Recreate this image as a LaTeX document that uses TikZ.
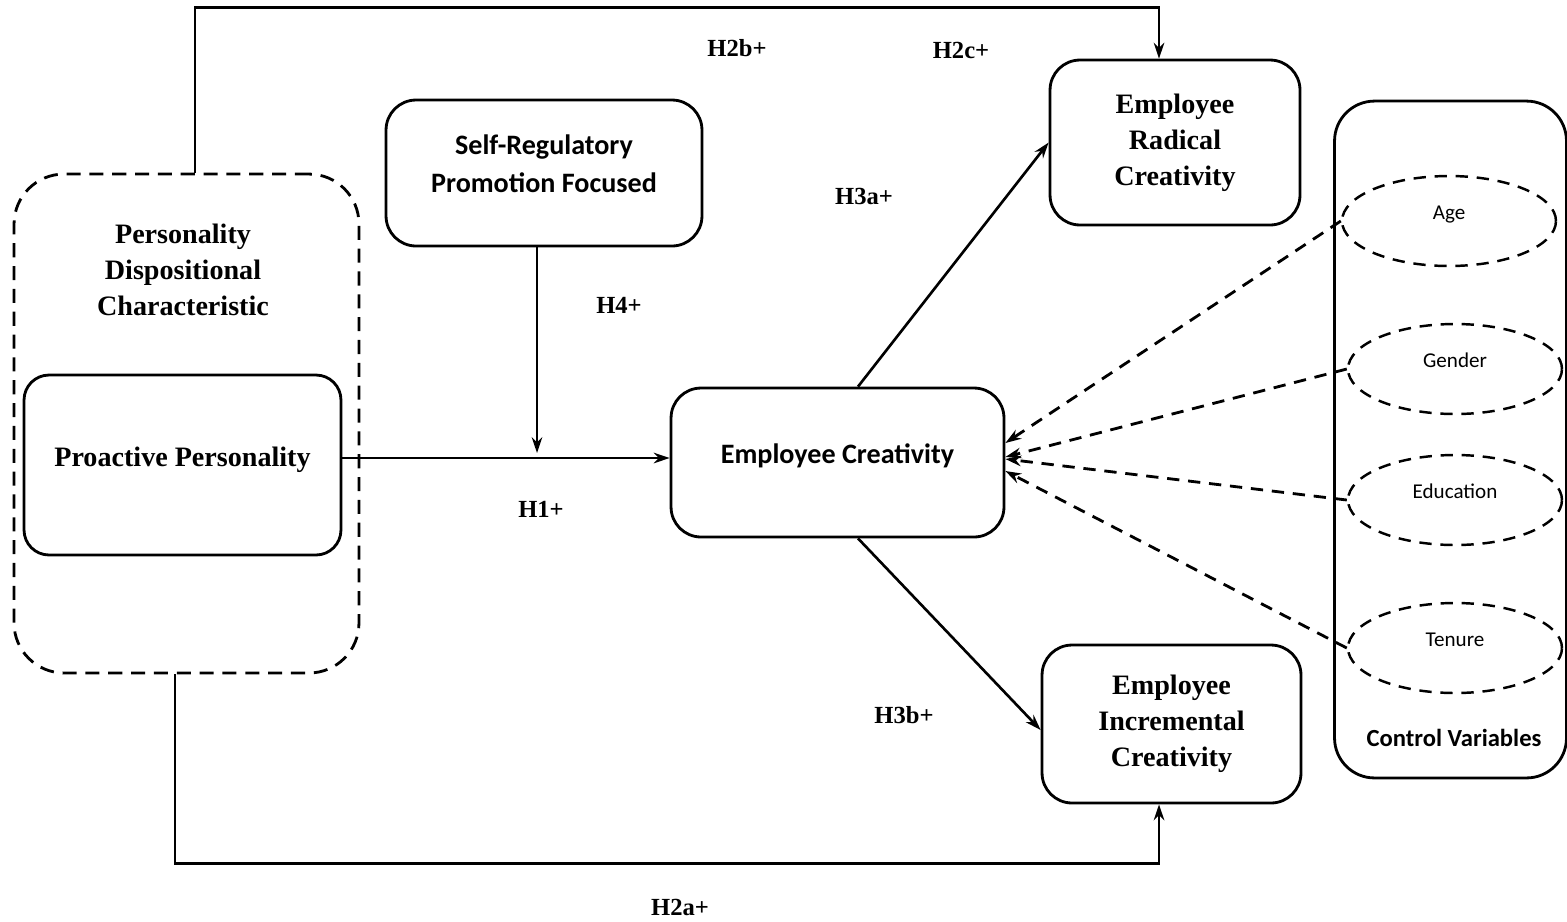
\documentclass[tikz,border=0pt]{standalone}
\usepackage{fontspec}
\setmainfont{Liberation Serif}
\newfontfamily\calibri{Carlito}
\usetikzlibrary{arrows.meta,shapes.geometric}
\tikzset{
  box/.style={draw, line width=1.6pt, rounded corners=0.6cm, inner sep=0pt},
  dashbox/.style={draw, line width=1.6pt, rounded corners=1cm, dash pattern=on 8pt off 5pt},
  cvar/.style={draw, ellipse, line width=1.4pt, dash pattern=on 7pt off 5pt,
    minimum width=4.28cm, minimum height=1.8cm, inner sep=0pt,
    text height=0.3cm, text depth=0.38cm,
    font=\calibri\fontsize{12}{14}\selectfont},
  serif/.style={align=center, font=\fontsize{16}{20.5}\selectfont\bfseries},
  sans/.style={align=center, font=\calibri\fontsize{16}{21.5}\selectfont\bfseries},
  hyp/.style={font=\fontsize{14}{17}\selectfont\bfseries},
  link/.style={line width=1.5pt, -{Stealth[length=9pt,width=6pt]}},
  ctrl/.style={line width=1.6pt, dash pattern=on 7pt off 5pt, -{Stealth[length=9pt,width=6pt]}}
}
\begin{document}
\begin{tikzpicture}[x=0.02cm, y=-0.02cm]
  \useasboundingbox (0,0) rectangle (1567,921);
  % boxes
  \node[dashbox, minimum width=6.9cm, minimum height=9.98cm] (pdc) at (186.5,423.5) {};
  \node[serif] (pdctext) at (183,270) {Personality\\Dispositional\\Characteristic};
  \node[box, rounded corners=0.5cm, serif, text height=0.39cm, text depth=0.35cm,
    minimum width=6.34cm, minimum height=3.6cm] (pp) at (182.5,465) {Proactive Personality};
  \node[box, minimum width=6.32cm, minimum height=2.92cm] (srm) at (544,173) {};
  \node[sans] (srmtext) at (544,164) {Self-Regulatory\\Promotion Focused};
  \node[box, sans, text height=0.39cm, text depth=0.35cm,
    minimum width=6.66cm, minimum height=2.98cm] (ec) at (837.5,462.5) {Employee Creativity};
  \node[box, serif, minimum width=5cm, minimum height=3.3cm] (erc) at (1175,142.5) {Employee\\Radical\\Creativity};
  \node[box, serif, minimum width=5.18cm, minimum height=3.16cm] (eic) at (1171.5,724) {Employee\\Incremental\\Creativity};
  \node[box, rounded corners=0.8cm, minimum width=4.64cm, minimum height=13.54cm] (cv) at (1450.5,439.5) {};
  \node[font=\calibri\fontsize{14}{17}\selectfont\bfseries] (cvtext) at (1454,738) {Control Variables};
  % control variables
  \node[cvar] (age) at (1449,221) {Age};
  \node[cvar] (gender) at (1455,369) {Gender};
  \node[cvar] (edu) at (1455,500) {Education};
  \node[cvar] (tenure) at (1455,648) {Tenure};
  % hypotheses
  \node[hyp] (h2b) at (737,48) {H2b+};
  \node[hyp] (h2c) at (961,50) {H2c+};
  \node[hyp] (h3a) at (864,196) {H3a+};
  \node[hyp] (h4) at (619,305) {H4+};
  \node[hyp] (h1) at (541,509) {H1+};
  \node[hyp] (h3b) at (904,715) {H3b+};
  \node[hyp] (h2a) at (680,907) {H2a+};
  % paths
  \draw[link] ([xshift=0.17cm]pdc.north) -- ++(0,-165) -| ([xshift=-0.32cm]erc.north);
  \draw[link] ([xshift=-0.23cm]pdc.south) -- ++(0,189) -| ([xshift=-0.25cm]eic.south);
  \draw[link] (pp.east |- 0,458) -- (ec.west |- 0,458);
  \draw[link] ([xshift=-0.14cm]srm.south) -- ([xshift=-0.14cm]srm.south |- 0,453);
  \draw[link] ([xshift=0.41cm]ec.north) -- (erc.west);
  \draw[link] ([xshift=0.41cm]ec.south) -- ([yshift=-0.12cm]eic.west);
  \begin{scope}[ctrl]
    \draw (age.west) -- ([yshift=0.39cm]ec.east);
    \draw (gender.west) -- ([yshift=0.11cm]ec.east);
    \draw (edu.west) -- ([yshift=0.07cm]ec.east);
    \draw (tenure.west) -- ([yshift=-0.17cm]ec.east);
  \end{scope}
\end{tikzpicture}
\end{document}
